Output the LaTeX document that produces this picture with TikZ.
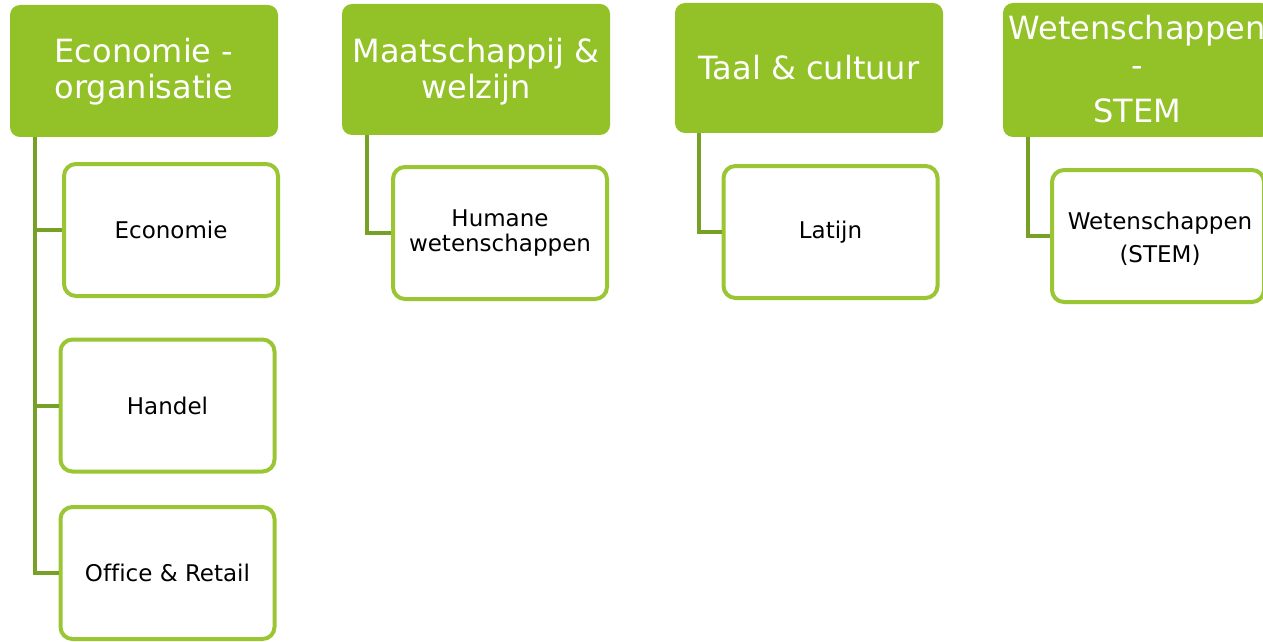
\documentclass[tikz,border=0pt]{standalone}
\usepackage{fontspec}
\setmainfont[Ligatures={NoCommon}]{DejaVu Sans}
\definecolor{hdrgreen}{RGB}{146,193,40}
\definecolor{boxgreen}{RGB}{155,198,52}
\definecolor{lnkgreen}{RGB}{118,160,38}
\tikzset{
  hdr/.style={fill=hdrgreen, rounded corners=5pt, text=white, align=center,
    font=\fontsize{16}{18}\selectfont, inner sep=0pt},
  hdrtxt/.style={text=white, font=\fontsize{16}{18}\selectfont, inner sep=0pt, anchor=base},
  child/.style={draw=boxgreen, line width=2pt, fill=white, rounded corners=6pt,
    minimum width=107pt, minimum height=66pt, align=center,
    font=\fontsize{11.5}{12.5}\selectfont, inner sep=0pt},
  childtxt/.style={font=\fontsize{11.5}{12.5}\selectfont, inner sep=0pt, anchor=base},
  conn/.style={draw=lnkgreen, line width=2pt}
}
\begin{document}
\begin{tikzpicture}[x=0.5pt,y=-0.5pt]
\clip (0,0) rectangle (1263,642);
\fill[white] (0,0) rectangle (1263,642);
% headers
\node[hdr, minimum width=134pt, minimum height=66pt] (h1) at (144,71) {};
\node[hdrtxt] (h1a) at (144,63) {Economie -};
\node[hdrtxt] (h1b) at (144,99) {organisatie};
\node[hdr, minimum width=134pt, minimum height=65.5pt] (h2) at (476,69.5) {};
\node[hdrtxt] (h2a) at (476,63) {Maatschappij \&};
\node[hdrtxt] (h2b) at (476,98) {welzijn};
\node[hdr, minimum width=134pt, minimum height=65pt] (h3) at (809,68) {Taal \& cultuur};
\node[hdr, minimum width=134pt, minimum height=67pt] (h4) at (1137,70) {};
\node[hdrtxt] (h4a) at (1137,40) {Wetenschappen};
\node[hdrtxt] (h4b) at (1137,76) {-};
\node[hdrtxt] (h4c) at (1137,123) {STEM};
% children
\node[child] (c1) at (171,230) {Economie};
\node[child] (c2) at (167.5,405.5) {Handel};
\node[child] (c3) at (167.5,573) {Office \& Retail};
\node[child] (c4) at (500,233) {Humane\\wetenschappen};
\node[child] (c5) at (830.5,232) {Latijn};
\node[child, minimum width=106pt] (c6) at (1158,236) {};
\node[childtxt] (c6a) at (1160,229) {Wetenschappen};
\node[childtxt] (c6b) at (1160,262) {(STEM)};
% connectors
\draw[conn] ([xshift=12.5pt]h1.south west) |- (c3.west);
\draw[conn] ([xshift=12.5pt]h1.south west) |- (c1.west);
\draw[conn] ([xshift=12.5pt]h1.south west) |- (c2.west);
\draw[conn] ([xshift=12.5pt]h2.south west) |- (c4.west);
\draw[conn] ([xshift=12pt]h3.south west) |- (c5.west);
\draw[conn] ([xshift=12.5pt]h4.south west) |- (c6.west);
\end{tikzpicture}
\end{document}
